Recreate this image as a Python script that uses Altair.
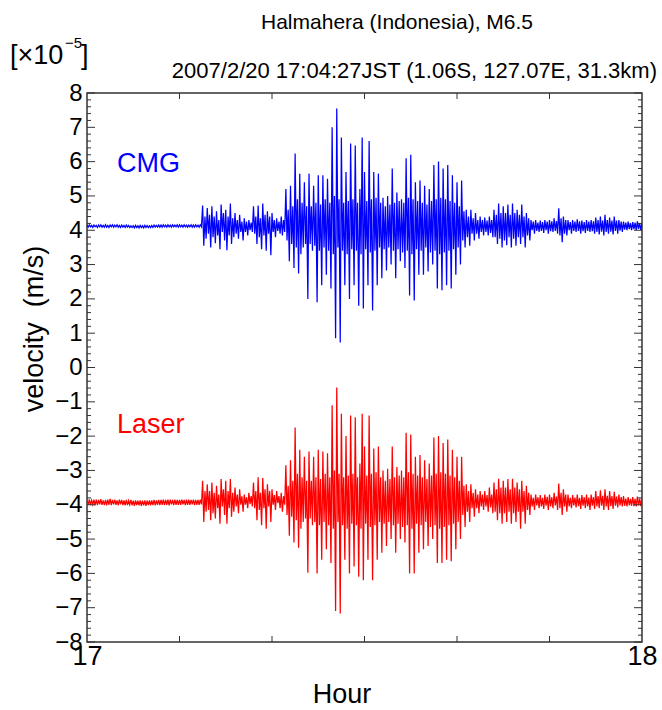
import altair as alt
import pandas as pd

# ---- data (velocity in units of 1e-5 m/s) ----
# peaks / troughs, alternating, one every 0.125 min (8 per minute) from 17:00 to 18:00
STEP_MIN = 0.125
cmg = [
    4.15, 4.09, 4.16, 4.10, 4.14, 4.08, 4.15, 4.10,  # 17:00
    4.14, 4.08, 4.15, 4.10, 4.16, 4.09, 4.14, 4.09,
    4.16, 4.09, 4.14, 4.08, 4.15, 4.10, 4.16, 4.09,
    4.15, 4.10, 4.16, 4.09, 4.14, 4.08, 4.15, 4.09,
    4.14, 4.08, 4.15, 4.09, 4.14, 4.08, 4.13, 4.08,
    4.13, 4.07, 4.14, 4.08, 4.13, 4.07, 4.14, 4.08,  # 17:05
    4.13, 4.07, 4.14, 4.08, 4.14, 4.08, 4.13, 4.08,
    4.14, 4.08, 4.15, 4.09, 4.14, 4.09, 4.15, 4.09,
    4.15, 4.09, 4.16, 4.10, 4.15, 4.09, 4.16, 4.10,
    4.15, 4.09, 4.16, 4.10, 4.15, 4.10, 4.16, 4.09,
    4.16, 4.10, 4.15, 4.09, 4.16, 4.10, 4.15, 4.09,  # 17:10
    4.15, 4.10, 4.16, 4.09, 4.15, 4.09, 4.16, 4.10,
    4.15, 4.09, 4.16, 4.10, 4.72, 3.55, 4.40, 3.75,
    4.65, 3.90, 4.45, 3.50, 4.70, 3.80, 4.40, 3.62,
    4.55, 3.85, 4.30, 3.45, 4.75, 3.95, 4.50, 3.70,
    4.60, 3.42, 4.40, 3.85, 4.78, 3.60, 4.35, 3.80,  # 17:15
    4.50, 3.90, 4.30, 3.75, 4.45, 3.95, 4.25, 3.70,
    4.35, 3.95, 4.25, 3.85, 4.30, 4.00, 4.22, 3.95,
    4.70, 3.90, 4.40, 3.60, 4.72, 3.80, 4.35, 3.45,
    4.78, 3.85, 4.45, 3.40, 4.55, 3.90, 4.40, 3.27,
    4.50, 3.95, 4.30, 3.80, 4.35, 3.98, 4.25, 3.90,  # 17:20
    4.40, 3.85, 4.30, 3.95, 5.20, 3.70, 4.60, 3.10,
    5.30, 3.60, 4.70, 2.90, 6.24, 3.50, 4.90, 2.74,
    5.65, 3.30, 4.80, 3.50, 5.40, 3.60, 4.70, 2.00,
    5.65, 3.60, 4.70, 3.40, 5.30, 3.55, 4.80, 1.90,
    5.60, 3.40, 4.75, 2.40, 5.60, 3.50, 4.90, 2.70,  # 17:25
    5.50, 3.40, 4.80, 2.30, 7.00, 3.30, 5.00, 0.85,
    7.55, 3.50, 4.90, 0.73, 6.70, 3.40, 4.80, 2.40,
    5.70, 3.30, 4.85, 2.00, 6.53, 3.45, 4.90, 2.40,
    6.47, 3.40, 4.80, 1.80, 5.20, 3.30, 6.70, 1.72,
    5.70, 3.45, 4.85, 2.40, 6.60, 3.35, 4.90, 1.66,  # 17:30
    5.70, 3.40, 4.95, 2.40, 5.65, 3.50, 4.80, 2.60,
    4.95, 3.45, 4.70, 2.83, 5.00, 3.50, 4.75, 3.00,
    5.80, 3.40, 4.80, 2.60, 5.10, 3.45, 4.85, 3.10,
    4.90, 3.35, 4.80, 2.90, 6.10, 3.40, 4.95, 2.10,
    6.20, 3.30, 4.90, 1.95, 5.40, 3.45, 4.85, 2.70,  # 17:35
    5.45, 3.40, 4.80, 2.70, 5.30, 3.50, 4.75, 2.80,
    5.20, 3.35, 4.85, 3.00, 5.90, 3.40, 4.90, 2.30,
    6.00, 3.30, 4.95, 2.25, 5.80, 3.35, 4.90, 2.40,
    5.90, 3.40, 4.85, 2.30, 5.60, 3.45, 4.80, 2.70,
    5.40, 3.50, 4.70, 3.00, 5.45, 3.70, 4.55, 3.50,  # 17:40
    4.60, 3.80, 4.40, 3.55, 4.60, 3.90, 4.35, 3.70,
    4.50, 3.90, 4.30, 3.75, 4.40, 3.95, 4.30, 3.85,
    4.37, 3.95, 4.28, 3.85, 4.40, 3.92, 4.30, 3.80,
    4.60, 3.80, 4.45, 3.60, 4.78, 3.75, 4.50, 3.50,
    4.70, 3.70, 4.50, 3.56, 4.75, 3.80, 4.45, 3.50,  # 17:45
    4.78, 3.75, 4.50, 3.55, 4.60, 3.80, 4.45, 3.60,
    4.75, 3.80, 4.40, 3.50, 4.50, 3.85, 4.35, 3.70,
    4.30, 4.00, 4.25, 3.90, 4.30, 3.98, 4.22, 3.95,
    4.28, 3.98, 4.24, 3.92, 4.30, 4.00, 4.25, 3.90,
    4.30, 3.97, 4.26, 3.95, 4.35, 3.98, 4.27, 3.90,  # 17:50
    4.64, 3.85, 4.35, 3.65, 4.40, 3.90, 4.30, 3.85,
    4.30, 4.00, 4.24, 3.90, 4.30, 3.98, 4.25, 3.95,
    4.32, 3.98, 4.26, 3.90, 4.28, 3.97, 4.24, 3.92,
    4.30, 3.98, 4.25, 3.95, 4.30, 3.97, 4.26, 3.90,
    4.37, 3.95, 4.30, 3.88, 4.40, 3.96, 4.28, 3.85,  # 17:55
    4.45, 3.95, 4.30, 3.90, 4.37, 3.96, 4.28, 3.88,
    4.40, 3.98, 4.28, 3.90, 4.30, 3.99, 4.25, 3.95,
    4.25, 4.02, 4.22, 4.00, 4.25, 4.03, 4.21, 4.00,
    4.24, 4.03, 4.22, 4.00, 4.26, 4.04, 4.21, 4.00,
    4.20,                                            # 18:00
]
laser = [
    -3.86, -4.00, -3.84, -4.01, -3.87, -3.99, -3.85, -4.02,  # 17:00
    -3.85, -4.01, -3.86, -3.99, -3.84, -4.00, -3.87, -4.01,
    -3.86, -4.02, -3.85, -4.00, -3.83, -4.01, -3.86, -3.99,
    -3.85, -4.00, -3.87, -4.02, -3.85, -3.99, -3.86, -4.01,
    -3.87, -4.02, -3.86, -4.01, -3.88, -4.00, -3.86, -4.02,
    -3.88, -4.03, -3.87, -4.01, -3.88, -4.02, -3.87, -4.03,  # 17:05
    -3.88, -4.02, -3.87, -4.03, -3.88, -4.01, -3.87, -4.02,
    -3.87, -4.01, -3.86, -4.02, -3.87, -4.00, -3.86, -4.01,
    -3.86, -4.00, -3.85, -4.01, -3.86, -4.00, -3.85, -4.02,
    -3.85, -3.99, -3.86, -4.01, -3.85, -4.00, -3.86, -4.00,
    -3.86, -4.00, -3.85, -3.99, -3.86, -4.01, -3.85, -4.00,  # 17:10
    -3.85, -4.00, -3.86, -3.99, -3.85, -4.01, -3.86, -4.00,
    -3.86, -4.00, -3.85, -3.99, -3.30, -4.50, -3.60, -4.20,
    -3.40, -4.15, -3.60, -4.45, -3.35, -4.25, -3.65, -4.40,
    -3.45, -4.10, -3.70, -4.55, -3.25, -4.05, -3.55, -4.30,
    -3.30, -4.55, -3.60, -4.10, -3.25, -4.35, -3.65, -4.20,  # 17:15
    -3.50, -4.05, -3.70, -4.25, -3.55, -4.00, -3.75, -4.20,
    -3.70, -4.00, -3.78, -4.10, -3.65, -3.98, -3.75, -4.05,
    -3.35, -4.10, -3.60, -4.45, -3.20, -4.15, -3.65, -4.60,
    -3.22, -4.10, -3.55, -4.70, -3.40, -4.05, -3.60, -4.50,
    -3.55, -4.00, -3.72, -4.15, -3.60, -3.95, -3.75, -4.10,  # 17:20
    -3.65, -4.20, -3.75, -4.00, -2.85, -4.30, -3.45, -4.90,
    -2.70, -4.35, -3.30, -5.10, -1.75, -4.45, -3.10, -5.25,
    -2.40, -4.70, -3.20, -4.50, -2.60, -4.40, -3.30, -5.98,
    -2.45, -4.40, -3.30, -4.60, -2.60, -4.50, -3.20, -6.00,
    -2.40, -4.60, -3.25, -5.60, -2.45, -4.50, -3.10, -5.30,  # 17:25
    -2.50, -4.60, -3.20, -5.70, -1.10, -4.70, -3.00, -7.10,
    -0.58, -4.50, -3.10, -7.17, -1.35, -4.60, -3.20, -5.60,
    -2.00, -4.70, -3.15, -6.00, -1.40, -4.55, -3.10, -5.80,
    -1.45, -4.60, -3.20, -6.10, -2.80, -4.70, -1.35, -6.20,
    -2.30, -4.55, -3.15, -5.60, -1.40, -4.65, -3.10, -6.20,  # 17:30
    -2.36, -4.60, -3.05, -5.60, -2.30, -4.50, -3.20, -5.40,
    -3.00, -4.55, -3.30, -5.20, -2.95, -4.50, -3.25, -5.00,
    -2.30, -4.60, -3.20, -5.40, -2.90, -4.55, -3.15, -5.00,
    -3.00, -4.65, -3.20, -5.10, -1.90, -4.60, -3.05, -6.00,
    -1.95, -4.70, -3.10, -6.00, -2.60, -4.55, -3.15, -5.40,  # 17:35
    -2.55, -4.60, -3.20, -5.30, -2.70, -4.50, -3.25, -5.20,
    -2.80, -4.65, -3.15, -5.00, -2.04, -4.60, -3.10, -5.70,
    -2.00, -4.70, -3.05, -5.70, -2.20, -4.65, -3.10, -5.60,
    -2.10, -4.60, -3.15, -5.65, -2.40, -4.55, -3.20, -5.30,
    -2.60, -4.50, -3.30, -5.00, -2.60, -4.30, -3.45, -4.65,  # 17:40
    -3.40, -4.20, -3.60, -4.50, -3.40, -4.10, -3.65, -4.35,
    -3.55, -4.10, -3.70, -4.25, -3.60, -4.05, -3.70, -4.15,
    -3.60, -4.05, -3.72, -4.20, -3.50, -4.08, -3.70, -4.25,
    -3.35, -4.20, -3.55, -4.45, -3.24, -4.25, -3.50, -4.55,
    -3.30, -4.25, -3.50, -4.50, -3.25, -4.20, -3.55, -4.55,  # 17:45
    -3.24, -4.25, -3.50, -4.50, -3.35, -4.20, -3.55, -4.70,
    -3.30, -4.20, -3.60, -4.55, -3.45, -4.15, -3.65, -4.30,
    -3.70, -4.05, -3.80, -4.15, -3.70, -4.02, -3.78, -4.10,
    -3.72, -4.05, -3.80, -4.12, -3.70, -4.03, -3.77, -4.15,
    -3.70, -4.05, -3.78, -4.10, -3.65, -4.02, -3.76, -4.15,  # 17:50
    -3.38, -4.10, -3.65, -4.30, -3.55, -4.05, -3.70, -4.20,
    -3.70, -4.05, -3.80, -4.10, -3.72, -4.02, -3.79, -4.08,
    -3.70, -4.04, -3.80, -4.12, -3.72, -4.03, -3.78, -4.10,
    -3.70, -4.05, -3.79, -4.15, -3.70, -4.03, -3.78, -4.12,
    -3.60, -4.05, -3.75, -4.10, -3.58, -4.03, -3.74, -4.15,  # 17:55
    -3.55, -4.05, -3.74, -4.15, -3.60, -4.04, -3.75, -4.12,
    -3.62, -4.03, -3.76, -4.08, -3.70, -4.02, -3.78, -4.05,
    -3.75, -4.03, -3.82, -4.05, -3.78, -4.02, -3.83, -4.03,
    -3.78, -4.04, -3.83, -4.05, -3.76, -4.02, -3.82, -4.04,
    -3.80,                                                    # 18:00
]

series_names = ["CMG", "Laser"]
series_colors = ["#0000ff", "#ff0000"]
y_major_ticks = list(range(-8, 9))
y_minor_ticks = [round(k * 0.2, 1) for k in range(-40, 41) if k % 5 != 0]
x_ticks = [17 + k / 6 for k in range(1, 6)]

W, H = 555, 549
FONT = "Liberation Sans"

rows = []
for name, vals in zip(series_names, [cmg, laser]):
    for i, v in enumerate(vals):
        rows.append({"hour": 17 + i * STEP_MIN / 60.0, "v": v, "series": name, "i": i})
df = pd.DataFrame(rows)

x_scale = alt.Scale(domain=[17, 18], nice=False, zero=False)
y_scale = alt.Scale(domain=[-8, 8], nice=False, zero=False)
x_axis = alt.Axis(values=[17, 18], format="d", labelFontSize=27, labelPadding=1,
                  labelFlush=False, ticks=False, domain=False, grid=False, title=None,
                  labelFont=FONT, labelColor="#000")
y_axis = alt.Axis(values=y_major_ticks, labelFontSize=24, labelPadding=5,
                  labelFlush=False, ticks=False, domain=False, grid=False, title=None,
                  labelFont=FONT, labelColor="#000", labelBaseline="middle")

X = alt.X("hour:Q", scale=x_scale, axis=x_axis)
Y = alt.Y("v:Q", scale=y_scale, axis=y_axis)
COLOR = alt.Color("series:N", scale=alt.Scale(domain=series_names, range=series_colors), legend=None)

traces = alt.Chart(df).mark_line(strokeWidth=1.25, clip=True).encode(
    x=X, y=Y, color=COLOR, order="i:Q",
)

frame_color = "#333333"
maj = pd.DataFrame({"v": y_major_ticks})
mnr = pd.DataFrame({"v": y_minor_ticks})
xt = pd.DataFrame({"hour": x_ticks})

def yrule(d, x0, x1):
    return alt.Chart(d).mark_rule(color=frame_color, strokeWidth=1).encode(
        y=Y, x=alt.value(x0), x2=alt.value(x1))

def xrule(y0, y1):
    return alt.Chart(xt).mark_rule(color=frame_color, strokeWidth=1).encode(
        x=X, y=alt.value(y0), y2=alt.value(y1))

ticks = [
    yrule(maj, 0, 8), yrule(mnr, 0, 4),
    yrule(maj, W - 8, W), yrule(mnr, W - 4, W),
    xrule(H, H - 6), xrule(0, 6),
]

def label(txt, x, y, size, color="#000", align="left", angle=0, baseline="alphabetic"):
    return alt.Chart(pd.DataFrame({"t": [txt]})).mark_text(
        font=FONT, fontSize=size, color=color, align=align, baseline=baseline, angle=angle
    ).encode(text="t:N", x=alt.value(x), y=alt.value(y))

texts = [
    label("Halmahera (Indonesia), M6.5", 310, -64, 21, align="center"),
    label("2007/2/20 17:04:27JST (1.06S, 127.07E, 31.3km)", 570, -15, 22, align="right"),
    label("[\u00d710", -77, -29, 27),
    label("\u22125", -22, -45, 15),
    label("]", -6, -29, 27),
    label("velocity\u00a0\u00a0(m/s)", -52, 236, 27, align="center", angle=270, baseline="middle"),
    label("Hour", 255, 610, 27, align="center"),
    label("CMG", 30, 79, 27, color="#0000ff"),
    label("Laser", 30, 340, 27, color="#ff0000"),
]

chart = alt.layer(traces, *ticks, *texts).properties(
    width=W, height=H,
    padding={"left": 87, "top": 93, "right": 20, "bottom": 68},
    autosize=alt.AutoSizeParams(type="none"),
    background="white",
).configure_view(stroke=frame_color, strokeWidth=1.5)

chart.save("out.html", embed_options={"renderer": "svg", "actions": False})
